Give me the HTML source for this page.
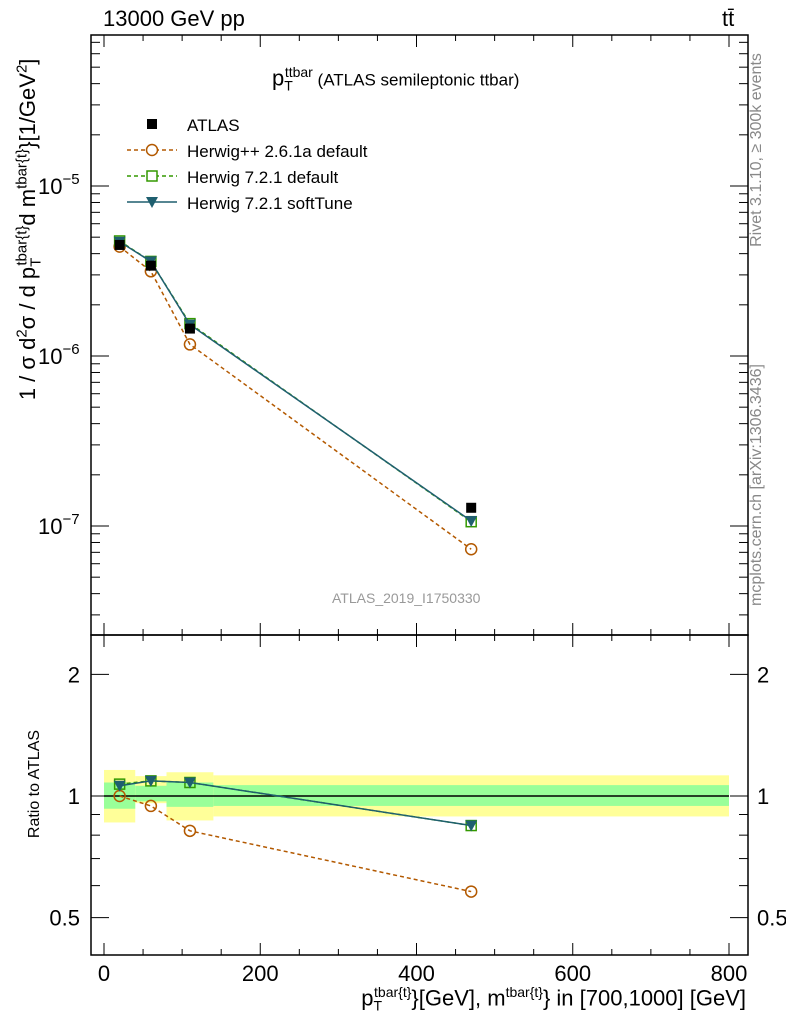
<!DOCTYPE html>
<html><head><meta charset="utf-8"><style>
body{margin:0;background:#fff;}
svg{display:block;font-family:"Liberation Sans",sans-serif;}
</style></head><body>
<svg id="c" width="786" height="1024" xmlns="http://www.w3.org/2000/svg"></svg>
<script>
const xs=[20,60,110,470];
const atlas=[4.5e-6,3.4e-6,1.45e-6,1.28e-7];
const hpp=[4.4e-6,3.15e-6,1.17e-6,7.3e-8];
const h721=[4.75e-6,3.6e-6,1.55e-6,1.06e-7];
const soft=[4.7e-6,3.6e-6,1.53e-6,1.07e-7];
const rHpp=[1.0,0.945,0.82,0.58];
const rH721=[1.07,1.09,1.08,0.845];
const rSoft=[1.06,1.09,1.08,0.845];
const binEdges=[0,40,80,140,800];
const yelLo=[0.86,0.96,0.87,0.89];
const yelHi=[1.16,1.12,1.145,1.125];
const grnLo=[0.93,0.97,0.94,0.945];
const grnHi=[1.08,1.06,1.08,1.064];
const xTicks=[0,200,400,600,800];

const NS="http://www.w3.org/2000/svg",svg=document.getElementById('c');
function el(t,a,p){const e=document.createElementNS(NS,t);for(const k in a)e.setAttribute(k,a[k]);(p||svg).appendChild(e);return e;}
const L=91,R=748,T=35,M=635,B=955;
const X=v=>104+v*0.78125;
const Y=v=>186-(Math.log10(v)+5)*170;
const RY=v=>796-Math.log10(v)*404;

let f1=el('rect',{x:L,y:T,width:R-L,height:M-T,fill:'none',stroke:'#000','stroke-width':1.5});

for(let i=0;i<4;i++){
 let y=el('rect',{x:X(binEdges[i]),y:RY(yelHi[i]),width:X(binEdges[i+1])-X(binEdges[i]),height:RY(yelLo[i])-RY(yelHi[i]),fill:'#ffff99'});
 
 let g=el('rect',{x:X(binEdges[i]),y:RY(grnHi[i]),width:X(binEdges[i+1])-X(binEdges[i]),height:RY(grnLo[i])-RY(grnHi[i]),fill:'#99ff99'});
 
}
el('line',{x1:X(0),x2:X(800),y1:RY(1),y2:RY(1),stroke:'#000','stroke-width':1.5});
let f2=el('rect',{x:L,y:M,width:R-L,height:B-M,fill:'none',stroke:'#000','stroke-width':1.5});


for(const panel of [[T,M],[M,B]]){
 for(let v=0;v<=850;v+=50){if(X(v)>R)break;const big=v%200===0;const h=big?12:6;
  el('line',{x1:X(v),x2:X(v),y1:panel[1],y2:panel[1]-h,stroke:'#000'});
  el('line',{x1:X(v),x2:X(v),y1:panel[0],y2:panel[0]+h,stroke:'#000'});}
}
xTicks.forEach(v=>{let t=el('text',{x:X(v),y:981,'font-size':22,'text-anchor':'middle'});t.textContent=v;
 });
for(let d=-8;d<=-4;d++)for(let m=1;m<10;m++){const v=m*Math.pow(10,d);const y=Y(v);if(y<T||y>M)continue;const h=m===1?18:9;
 el('line',{x1:L,x2:L+h,y1:y,y2:y,stroke:'#000'});el('line',{x1:R,x2:R-h,y1:y,y2:y,stroke:'#000'});}
[[-5,186],[-6,356],[-7,526]].forEach(([e,y])=>{let t=el('text',{x:38,y:y+8,'font-size':22});t.innerHTML='10<tspan dy="-10" font-size="15">−'+(-e)+'</tspan>';
 });
[0.5,0.6,0.7,0.8,0.9,1,2].forEach(v=>{const y=RY(v);const h=(v===1||v===2||v===0.5)?18:9;
 el('line',{x1:L,x2:L+h,y1:y,y2:y,stroke:'#000'});el('line',{x1:R,x2:R-h,y1:y,y2:y,stroke:'#000'});});
[0.5,1,2].forEach(v=>{const y=RY(v);const s=String(v);
 let t=el('text',{x:80,y:y+8,'font-size':22,'text-anchor':'end'});t.textContent=s;
 let t2=el('text',{x:757,y:y+8,'font-size':22});t2.textContent=s;});

function series(vals,yf,color,dash,marker,name){
 const g=el('g',{});
 if(color){el('polyline',{points:xs.map((x,i)=>X(x)+','+yf(vals[i])).join(' '),fill:'none',stroke:color,'stroke-width':1.5,'stroke-dasharray':dash||''},g);}
 xs.forEach((x,i)=>{const cx=X(x),cy=yf(vals[i]);
  if(marker==='sq') el('rect',{x:cx-5,y:cy-5,width:10,height:10,fill:'#000'},g);
  if(marker==='circ') el('circle',{cx,cy,r:5.5,fill:'none',stroke:color,'stroke-width':1.5},g);
  if(marker==='osq') el('rect',{x:cx-5,y:cy-5,width:10,height:10,fill:'none',stroke:color,'stroke-width':1.5},g);
  if(marker==='tri') el('path',{d:`M${cx-6},${cy-5}L${cx+6},${cy-5}L${cx},${cy+6}Z`,fill:color},g);
 });
}
series(hpp,Y,'#b35900','4,3','circ','herwigpp-series');
series(h721,Y,'#339900','4,3','osq','herwig721-series');
series(soft,Y,'#1f5f6f','','tri','softtune-series');
series(atlas,Y,null,'','sq','atlas-data');
series(rHpp,RY,'#b35900','4,3','circ','herwigpp-ratio');
series(rH721,RY,'#339900','4,3','osq','herwig721-ratio');
series(rSoft,RY,'#1f5f6f','','tri','softtune-ratio');

const leg=[['ATLAS',null,'sq'],['Herwig++ 2.6.1a default','#b35900','circ'],['Herwig 7.2.1 default','#339900','osq'],['Herwig 7.2.1 softTune','#1f5f6f','tri']];
leg.forEach((l,i)=>{const y=124+i*26;const g=el('g',{});
 const cx=152,cy=y;
 if(l[1])el('line',{x1:127,x2:177,y1:cy,y2:cy,stroke:l[1],'stroke-width':1.5,'stroke-dasharray':l[2]==='tri'?'':'4,3'},g);
 if(l[2]==='sq')el('rect',{x:cx-5,y:cy-5,width:10,height:10},g);
 if(l[2]==='circ')el('circle',{cx,cy,r:5.5,fill:'#fff',stroke:l[1],'stroke-width':1.5},g);
 if(l[2]==='osq')el('rect',{x:cx-5,y:cy-5,width:10,height:10,fill:'#fff',stroke:l[1],'stroke-width':1.5},g);
 if(l[2]==='tri')el('path',{d:`M${cx-6},${cy-5}L${cx+6},${cy-5}L${cx},${cy+6}Z`,fill:l[1]},g);
 const t=el('text',{x:187,y:y+7,'font-size':17},g);t.textContent=l[0];});
</script>
<div style="position:absolute;left:0;top:0;width:786px;height:1024px;pointer-events:none;font-family:'Liberation Sans',sans-serif;">
 <div style="position:absolute;left:103px;top:6px;font-size:22px;">13000 GeV pp</div>
 <div style="position:absolute;left:722px;top:6px;font-size:22px;">tt̄</div>
 <div style="position:absolute;left:272px;top:64px;font-size:22px;white-space:nowrap;">p<sub style="font-size:14px;">T</sub><sup style="font-size:14px;margin-left:-8px;">ttbar</sup><span style="font-size:17px;"> (ATLAS semileptonic ttbar)</span></div>
 <div style="position:absolute;left:332px;top:590px;font-size:14px;color:#999;">ATLAS_2019_I1750330</div>
 <div style="position:absolute;left:-236px;top:214px;width:530px;text-align:center;transform:rotate(-90deg);font-size:22px;white-space:nowrap;">1 / σ d<sup style="font-size:15px">2</sup>σ / d p<sub style="font-size:15px">T</sub><sup style="font-size:15px;margin-left:-8px;">tbar{t}</sup>d m<sup style="font-size:15px">tbar{t}</sup>}[1/GeV<sup style="font-size:15px">2</sup>]</div>
 <div style="position:absolute;left:-55px;top:775px;width:180px;text-align:center;transform:rotate(-90deg);font-size:16px;white-space:nowrap;">Ratio to ATLAS</div>
 <div style="position:absolute;right:40px;top:984px;font-size:22px;white-space:nowrap;">p<sub style="font-size:14px">T</sub><sup style="font-size:14px;margin-left:-8px;">tbar{t}</sup>}[GeV], m<sup style="font-size:14px">tbar{t}</sup>} in [700,1000] [GeV]</div>
 <div style="position:absolute;left:617px;top:141px;width:280px;text-align:center;transform:rotate(-90deg);font-size:16px;color:#888;white-space:nowrap;">Rivet 3.1.10, ≥ 300k events</div>
 <div style="position:absolute;left:577px;top:476px;width:360px;text-align:center;transform:rotate(-90deg);font-size:16px;color:#888;white-space:nowrap;">mcplots.cern.ch [arXiv:1306.3436]</div>
</div>
</body></html>
